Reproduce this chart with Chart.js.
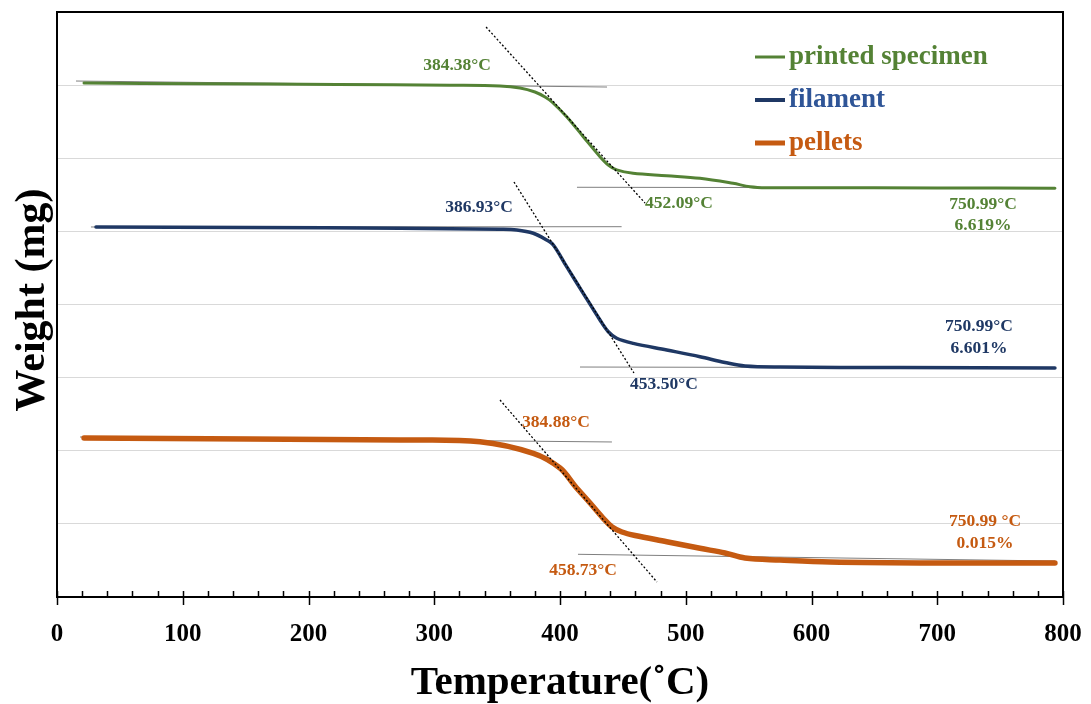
<!DOCTYPE html>
<html lang="en">
<head>
  <meta charset="UTF-8">
  <title>TGA - Weight vs Temperature</title>
  <script src="https://cdn.jsdelivr.net/npm/chart.js"></script>
  <style>
    body { margin: 0; background: #fff; }
    canvas { display: block; }
  </style>
</head>
<body>
<canvas id="tga" width="1091" height="704"></canvas>
<script>
  // --- curves: temperature (°C) and weight readings ---
  const printedTemp = [21.5, 113.7, 222.7, 312.5, 352.3, 368.2, 380.1, 388.1, 393.6, 405.3, 418.5, 431.8, 438.4, 445.1, 458.1, 484.9, 511.3, 537.6, 551.1, 564.4, 600, 700, 793.6];
  const printedWeight = [7.029, 7.018, 7.010, 6.998, 6.988, 6.961, 6.906, 6.838, 6.769, 6.568, 6.295, 6.021, 5.908, 5.840, 5.794, 5.761, 5.726, 5.657, 5.611, 5.597, 5.596, 5.594, 5.590];

  const filamentTemp = [31, 153.5, 272.8, 352.3, 365.6, 378.8, 389.4, 394.7, 405.3, 418.5, 431.8, 438.4, 445.1, 458.3, 484.9, 511.3, 531.2, 547.1, 575, 670.4, 793.6];
  const filamentWeight = [5.060, 5.053, 5.042, 5.028, 5.019, 4.974, 4.882, 4.814, 4.517, 4.153, 3.788, 3.628, 3.538, 3.469, 3.378, 3.286, 3.207, 3.159, 3.145, 3.138, 3.132];

  const pelletsTemp = [21.5, 153.5, 272.8, 336.4, 378.8, 400, 411.9, 423.9, 434.2, 441.4, 449.3, 459.7, 484.9, 511.3, 531.2, 547.1, 575, 614.7, 710.1, 793.6];
  const pelletsWeight = [2.174, 2.161, 2.147, 2.124, 1.965, 1.764, 1.518, 1.285, 1.080, 0.957, 0.889, 0.841, 0.756, 0.666, 0.602, 0.533, 0.506, 0.479, 0.465, 0.465];

  // --- onset / endset construction lines, [temp, weight] end points ---
  const printedBaseHigh = [[15.1, 7.056], [437.4, 6.974]];
  const printedBaseLow = [[413.5, 5.603], [793.6, 5.593]];
  const printedTangent = [[341.2, 7.795], [467.6, 5.388]];

  const filamentBaseHigh = [[27, 5.060], [449, 5.064]];
  const filamentBaseLow = [[415.9, 3.145], [793.6, 3.132]];
  const filamentTangent = [[363.4, 5.675], [458.8, 3.063]];

  const pelletsBaseHigh = [[18.3, 2.188], [441.3, 2.120]];
  const pelletsBaseLow = [[414.3, 0.584], [793.6, 0.492]];
  const pelletsTangent = [[352.3, 2.694], [477.1, 0.205]];

  // --- text notes: [text, temp, weight] ---
  const printedNotes = [['384.38°C', 318.1, 7.262], ['452.09°C', 494.6, 5.388], ['750.99°C', 736.4, 5.374], ['6.619%', 736.4, 5.074]];
  const filamentNotes = [['386.93°C', 335.6, 5.333], ['453.50°C', 482.7, 2.913], ['750.99°C', 733.2, 3.706], ['6.601%', 733.2, 3.405]];
  const pelletsNotes = [['384.88°C', 396.8, 2.393], ['458.73°C', 418.3, 0.356], ['750.99 °C', 738, 1.039], ['0.015%', 738, 0.738]];

  const xTicks = [0, 100, 200, 300, 400, 500, 600, 700, 800];
  const seriesNames = ['printed specimen', 'filament', 'pellets'];

  const GREEN = '#548235', NAVY = '#1F3864', ORANGE = '#C55A11';
  const SERIF = '"Liberation Serif", "Times New Roman", serif';

  const toPoints = (xs, ys) => xs.map((x, i) => ({ x: x, y: ys[i] }));
  const pairPoints = seg => seg.map(p => ({ x: p[0], y: p[1] }));

  function curve(label, xs, ys, color, width) {
    return {
      label: label, data: toPoints(xs, ys), borderColor: color, borderWidth: width,
      pointRadius: 0, tension: 0.35, borderCapStyle: 'round', borderJoinStyle: 'round', order: 2
    };
  }
  function baseLine(seg) {
    return { data: pairPoints(seg), borderColor: '#7f7f7f', borderWidth: 1, pointRadius: 0, order: 3 };
  }
  function tangent(seg) {
    return { data: pairPoints(seg), borderColor: '#000', borderWidth: 1.3, borderDash: [2, 2], pointRadius: 0, order: 0 };
  }

  // frame, x ticks, axis titles, notes and legend
  const decorations = {
    id: 'decorations',
    afterDraw(chart) {
      const ctx = chart.ctx;
      const a = chart.chartArea;
      const xs = chart.scales.x, ys = chart.scales.y;
      ctx.save();

      ctx.strokeStyle = '#000';
      ctx.lineWidth = 1.5;
      for (let t = 0; t <= 800; t += 20) {
        const px = Math.round(xs.getPixelForValue(t)) + 0.5;
        const major = t % 100 === 0;
        ctx.beginPath();
        ctx.moveTo(px, a.bottom - 6);
        ctx.lineTo(px, major ? a.bottom + 8 : a.bottom);
        ctx.stroke();
      }
      ctx.lineWidth = 2;
      ctx.strokeRect(a.left, a.top, a.right - a.left, a.bottom - a.top);

      ctx.fillStyle = '#000';
      ctx.textAlign = 'center';
      ctx.textBaseline = 'middle';
      ctx.font = 'bold 25px ' + SERIF;
      xTicks.forEach(t => ctx.fillText(String(t), xs.getPixelForValue(t), a.bottom + 38));

      ctx.font = 'bold 41px ' + SERIF;
      ctx.fillText('Temperature(˚C)', (a.left + a.right) / 2, a.bottom + 86);

      ctx.save();
      ctx.translate(33, 300);
      ctx.rotate(-Math.PI / 2);
      ctx.font = 'bold 42px ' + SERIF;
      ctx.fillText('Weight (mg)', 0, 0);
      ctx.restore();

      ctx.font = 'bold 17.5px ' + SERIF;
      [[printedNotes, GREEN], [filamentNotes, NAVY], [pelletsNotes, ORANGE]].forEach(([notes, color]) => {
        ctx.fillStyle = color;
        notes.forEach(n => ctx.fillText(n[0], xs.getPixelForValue(n[1]), ys.getPixelForValue(n[2])));
      });

      // legend
      const legendText = [GREEN, '#2F5597', ORANGE];
      const legendWidth = [3, 4, 5];
      ctx.font = 'bold 27px ' + SERIF;
      ctx.textAlign = 'left';
      chart.data.datasets.filter(d => d.label).forEach((d, i) => {
        const y = a.top + 45 + i * 43;
        ctx.strokeStyle = d.borderColor;
        ctx.lineWidth = legendWidth[i];
        ctx.beginPath();
        ctx.moveTo(a.left + 698, y);
        ctx.lineTo(a.left + 728, y);
        ctx.stroke();
        ctx.fillStyle = legendText[i];
        ctx.fillText(d.label, a.left + 732, y);
      });
      ctx.restore();
    }
  };

  new Chart(document.getElementById('tga'), {
    type: 'line',
    data: {
      datasets: [
        curve(seriesNames[0], printedTemp, printedWeight, GREEN, 3),
        curve(seriesNames[1], filamentTemp, filamentWeight, NAVY, 3.5),
        curve(seriesNames[2], pelletsTemp, pelletsWeight, ORANGE, 5.5),
        baseLine(printedBaseHigh), baseLine(printedBaseLow),
        baseLine(filamentBaseHigh), baseLine(filamentBaseLow),
        baseLine(pelletsBaseHigh), baseLine(pelletsBaseLow),
        tangent(printedTangent), tangent(filamentTangent), tangent(pelletsTangent)
      ]
    },
    options: {
      responsive: false,
      animation: false,
      devicePixelRatio: 1,
      layout: { padding: { left: 57, top: 12, right: 28, bottom: 107 } },
      plugins: { legend: { display: false }, tooltip: { enabled: false } },
      scales: {
        x: {
          type: 'linear', min: 0, max: 800,
          ticks: { display: false },
          grid: { display: false },
          border: { display: false },
          afterFit(scale) { scale.height = 0; }
        },
        y: {
          min: 0, max: 8,
          ticks: { display: false, stepSize: 1 },
          grid: { color: '#D9D9D9', lineWidth: 1, drawTicks: false },
          border: { display: false },
          afterFit(scale) { scale.width = 0; }
        }
      }
    },
    plugins: [decorations]
  });
</script>
</body>
</html>
